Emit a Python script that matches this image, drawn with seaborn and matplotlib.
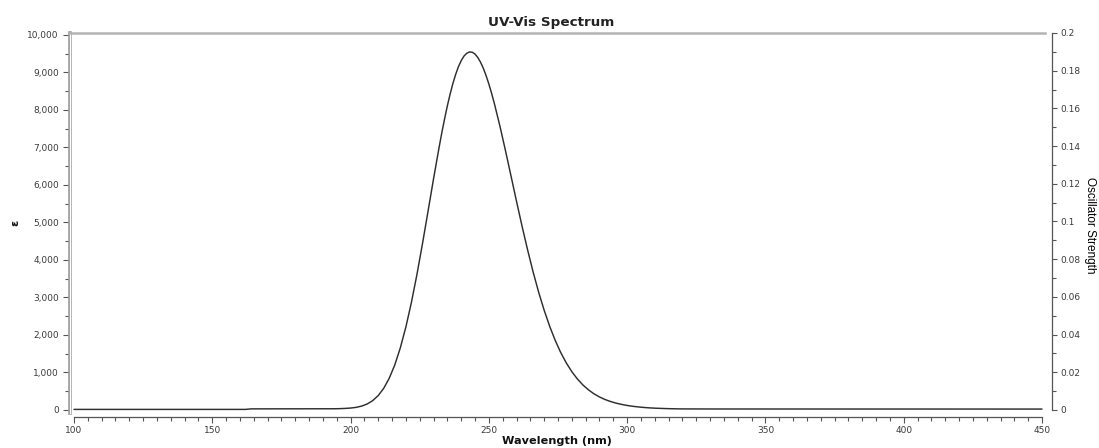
import matplotlib
matplotlib.use("Agg")
import matplotlib.pyplot as plt
import matplotlib.patheffects as pe
from matplotlib.ticker import MultipleLocator, FuncFormatter
import pandas as pd
import seaborn as sns

# ---- data ----
wavelength = [100, 162, 164, 194,
              196, 198, 200, 202, 204, 206, 208, 210, 212, 214, 216, 218, 220,
              222, 224, 226, 228, 230, 232, 233, 234, 235, 236, 237, 238, 239,
              240, 241, 242, 243, 244, 245, 246, 247, 248, 249, 250, 251, 252,
              254, 256, 258, 260, 262, 264, 266, 268, 270, 272,
              274, 276, 278, 280, 282, 284, 286, 288, 290, 292, 294, 296, 298,
              300, 302, 304, 306, 308, 310, 312, 314, 316, 318, 320, 330, 450]
epsilon = [16, 16, 30, 33,
           36, 42, 52, 70, 104, 160, 250, 385, 580, 850, 1205, 1660, 2215,
           2870, 3615, 4435, 5295, 6165, 7000, 7397, 7765, 8113, 8425, 8708, 8950, 9155,
           9315, 9437, 9512, 9548, 9540, 9490, 9400, 9273, 9112, 8917, 8693, 8442, 8170,
           7570, 6919, 6244, 5565, 4902, 4272, 3682, 3142, 2660, 2230,
           1855, 1530, 1255, 1022, 828, 668, 538, 432, 347, 280, 226, 183, 149,
           121, 99, 82, 68, 57, 49, 43, 38, 34, 31, 29, 27, 25]

title = "UV-Vis Spectrum"
x_label = "Wavelength (nm)"
y_label = "ε"
y2_label = "Oscillator Strength"

sns.set_theme(style="white")
plt.rcParams["font.family"] = ["DejaVu Sans"]

W, H = 1099, 448
fig = plt.figure(figsize=(W / 100, H / 100), dpi=100)
ax = fig.add_axes([70 / W, 35 / H, 975 / W, 380 / H])

df = pd.DataFrame({"wl": wavelength, "eps": epsilon})
sns.lineplot(data=df, x="wl", y="eps", ax=ax, color="#2e2e2e", lw=1.05)

ax.set_xlim(98.55, 451.09)
ax.set_ylim(-80, 10053)
ax.grid(False)

# spines
ax.spines["right"].set_visible(False)
ax.spines["top"].set_visible(True)
ax.spines["top"].set_color("#b4b4b4")
ax.spines["top"].set_linewidth(1.8)
ax.spines["bottom"].set_position(("outward", 3))
ax.spines["bottom"].set_bounds(100, 450)
ax.spines["bottom"].set_color("#555555")
ax.spines["bottom"].set_linewidth(0.9)
ax.spines["left"].set_color("white")
ax.spines["left"].set_linewidth(0.9)
ax.spines["left"].set_path_effects([pe.Stroke(linewidth=2.6, foreground="#9a9a9a"), pe.Normal()])

ax.xaxis.set_major_locator(MultipleLocator(50))
ax.xaxis.set_minor_locator(MultipleLocator(5))
ax.yaxis.set_major_locator(MultipleLocator(1000))
ax.yaxis.set_minor_locator(MultipleLocator(500))
ax.yaxis.set_major_formatter(FuncFormatter(lambda v, p: f"{v:,.0f}"))

ax.tick_params(axis="both", which="both", bottom=True, left=True, direction="out",
               color="#555555", width=0.8, labelsize=6.5, labelcolor="#3a3a3a")
ax.tick_params(axis="x", which="major", length=4.5, pad=1.5)
ax.tick_params(axis="x", which="minor", length=3)
ax.tick_params(axis="y", which="major", length=5, pad=3)
ax.tick_params(axis="y", which="minor", length=3.5)

# right axis (oscillator strength)
ax2 = ax.twinx()
ax2.set_ylim(-0.0016, 0.2)
ax2.grid(False)
for s in ["top", "left", "bottom"]:
    ax2.spines[s].set_visible(False)
ax2.spines["right"].set_visible(True)
ax2.spines["right"].set_position(("outward", 5))
ax2.spines["right"].set_bounds(0, 0.2)
ax2.spines["right"].set_color("#555555")
ax2.spines["right"].set_linewidth(0.9)
ax2.yaxis.set_major_locator(MultipleLocator(0.02))
ax2.yaxis.set_minor_locator(MultipleLocator(0.01))
ax2.yaxis.set_major_formatter(FuncFormatter(lambda v, p: f"{v:g}"))
ax2.tick_params(axis="y", which="both", right=True, direction="out", color="#555555",
                width=0.8, labelsize=6.5, labelcolor="#3a3a3a", pad=2.5)
ax2.tick_params(axis="y", which="major", length=3.5)
ax2.tick_params(axis="y", which="minor", length=3)

# labels
ax.set_title(title, fontsize=9.7, fontweight="bold", color="#222222", x=0.494, y=1.0184, pad=0)
ax.set_xlabel(x_label, fontsize=8.1, fontweight="bold", color="#111111")
ax.xaxis.set_label_coords(0.4995, -0.0737)
ax.xaxis.label.set_va("center")
ax.set_ylabel(y_label, fontsize=8, fontweight="bold", color="#111111")
ax.yaxis.set_label_coords(-0.0564, 0.5)
ax.yaxis.label.set_va("center")
ax2.set_ylabel(y2_label, fontsize=8.5, color="black", rotation=-90, family=["Liberation Sans"])
ax2.yaxis.set_label_coords(1.046, 0.495)
ax2.yaxis.label.set_va("center")
ax2.yaxis.label.set_ha("center")

fig.savefig("out.png", dpi=100, facecolor="white")
